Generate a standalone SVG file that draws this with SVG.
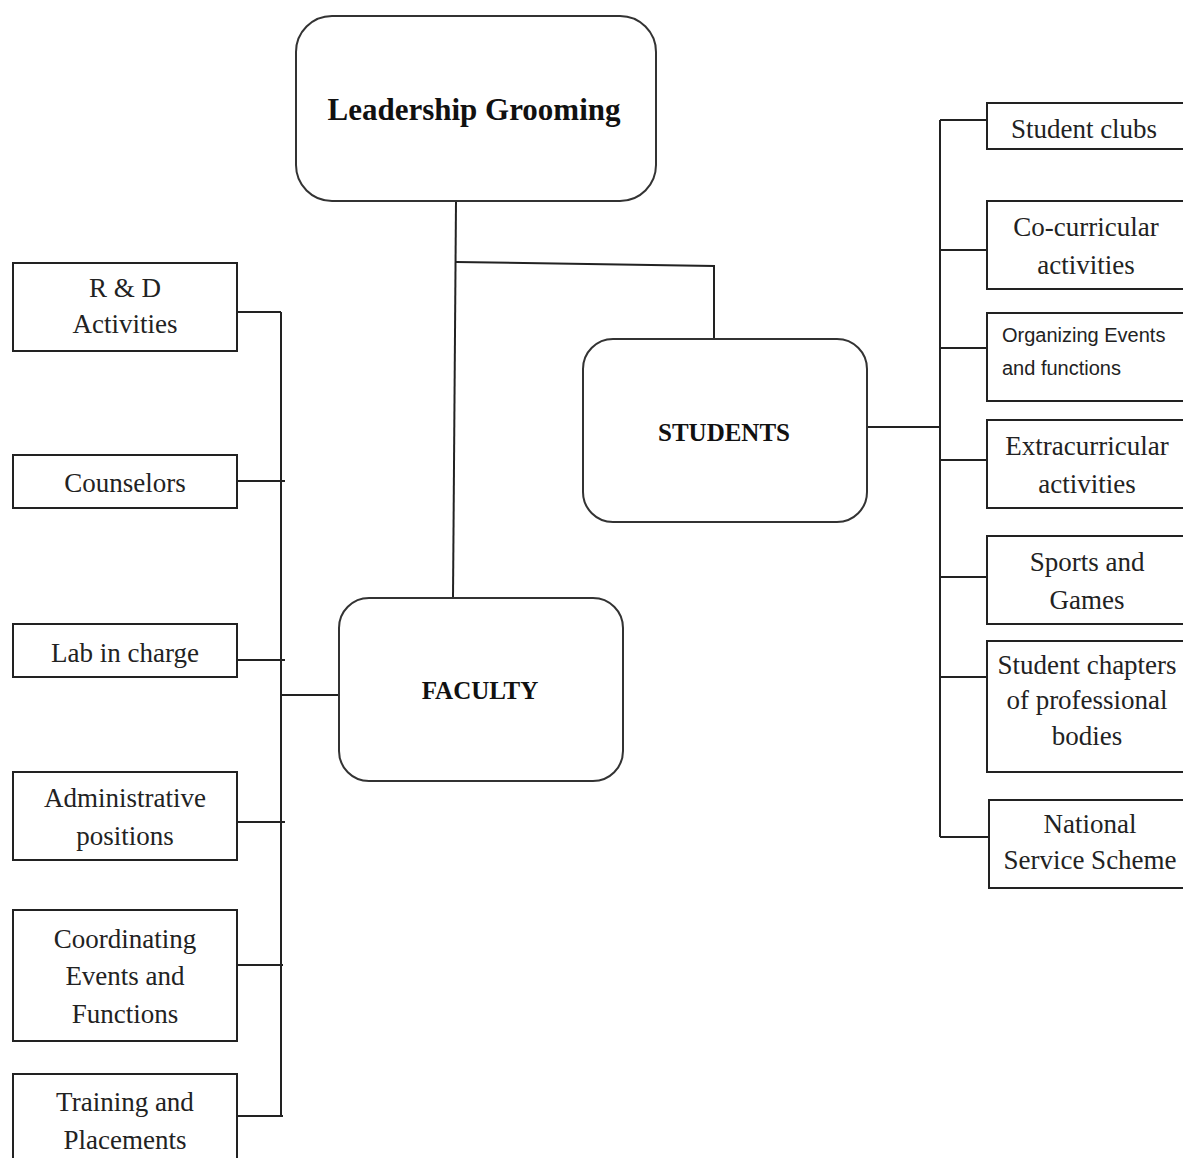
<svg xmlns="http://www.w3.org/2000/svg" width="1183" height="1158" viewBox="0 0 1183 1158">
<style>
.box{fill:#fff;stroke:#222;stroke-width:2}
.rbox{fill:#fff;stroke:#333;stroke-width:2}
.ln{fill:none;stroke:#222;stroke-width:2}
.t{font-family:"Liberation Serif","Times New Roman",serif;font-size:27px;fill:#222;text-anchor:middle}
.tb{font-family:"Liberation Serif","Times New Roman",serif;font-weight:bold;fill:#111;text-anchor:middle}
.ts{font-family:"Liberation Sans",Arial,sans-serif;font-size:20px;fill:#222}
</style>
<rect width="1183" height="1158" fill="#fff"/>
<g id="connectors">
<path class="ln" d="M456,201 L453,598"/>
<path class="ln" d="M456,262 L714,266 L714,339"/>
<path class="ln" d="M867,427 L940,427"/>
<path class="ln" d="M940,120 L940,837"/>
<path class="ln" d="M940,120 L987,120 M940,250 L987,250 M940,348 L987,348 M940,460 L987,460 M940,577 L987,577 M940,677 L987,677 M940,837 L989,837"/>
<path class="ln" d="M339,695 L281,695"/>
<path class="ln" d="M281,312 L281,1116"/>
<path class="ln" d="M232,312 L281,312 M237,481 L285,481 M237,660 L285,660 M237,822 L285,822 M231,965 L283,965 M237,1116 L283,1116"/>
</g>
<g id="leadership">
<rect class="rbox" x="296" y="16" width="360" height="185" rx="36"/>
<text class="tb" x="474" y="120" font-size="31">Leadership Grooming</text>
</g>
<g id="students">
<rect class="rbox" x="583" y="339" width="284" height="183" rx="30"/>
<text class="tb" x="724" y="441" font-size="25">STUDENTS</text>
</g>
<g id="faculty">
<rect class="rbox" x="339" y="598" width="284" height="183" rx="30"/>
<text class="tb" x="480" y="699" font-size="25">FACULTY</text>
</g>
<g id="rd">
<rect class="box" x="13" y="263" width="224" height="88"/>
<text class="t" x="125" y="297">R &amp; D</text>
<text class="t" x="125" y="333">Activities</text>
</g>
<g id="counselors">
<rect class="box" x="13" y="455" width="224" height="53"/>
<text class="t" x="125" y="492">Counselors</text>
</g>
<g id="lab">
<rect class="box" x="13" y="624" width="224" height="53"/>
<text class="t" x="125" y="662">Lab in charge</text>
</g>
<g id="admin">
<rect class="box" x="13" y="772" width="224" height="88"/>
<text class="t" x="125" y="807">Administrative</text>
<text class="t" x="125" y="845">positions</text>
</g>
<g id="coord">
<rect class="box" x="13" y="910" width="224" height="131"/>
<text class="t" x="125" y="948">Coordinating</text>
<text class="t" x="125" y="985">Events and</text>
<text class="t" x="125" y="1023">Functions</text>
</g>
<g id="training">
<rect class="box" x="13" y="1074" width="224" height="100"/>
<text class="t" x="125" y="1111">Training and</text>
<text class="t" x="125" y="1149">Placements</text>
</g>
<g id="clubs">
<rect class="box" x="987" y="103" width="210" height="46"/>
<text class="t" x="1084" y="138">Student clubs</text>
</g>
<g id="cocurricular">
<rect class="box" x="987" y="201" width="210" height="88"/>
<text class="t" x="1086" y="236">Co-curricular</text>
<text class="t" x="1086" y="274">activities</text>
</g>
<g id="organizing">
<rect class="box" x="987" y="313" width="210" height="88"/>
<text class="ts" x="1002" y="342">Organizing Events</text>
<text class="ts" x="1002" y="375">and functions</text>
</g>
<g id="extracurricular">
<rect class="box" x="987" y="420" width="210" height="88"/>
<text class="t" x="1087" y="455">Extracurricular</text>
<text class="t" x="1087" y="493">activities</text>
</g>
<g id="sports">
<rect class="box" x="987" y="536" width="210" height="88"/>
<text class="t" x="1087" y="571">Sports and</text>
<text class="t" x="1087" y="609">Games</text>
</g>
<g id="chapters">
<rect class="box" x="987" y="641" width="210" height="131"/>
<text class="t" x="1087" y="674" font-size="26">Student chapters</text>
<text class="t" x="1087" y="709" font-size="26">of professional</text>
<text class="t" x="1087" y="745" font-size="26">bodies</text>
</g>
<g id="nss">
<rect class="box" x="989" y="800" width="210" height="88"/>
<text class="t" x="1090" y="833">National</text>
<text class="t" x="1090" y="869">Service Scheme</text>
</g>
</svg>
